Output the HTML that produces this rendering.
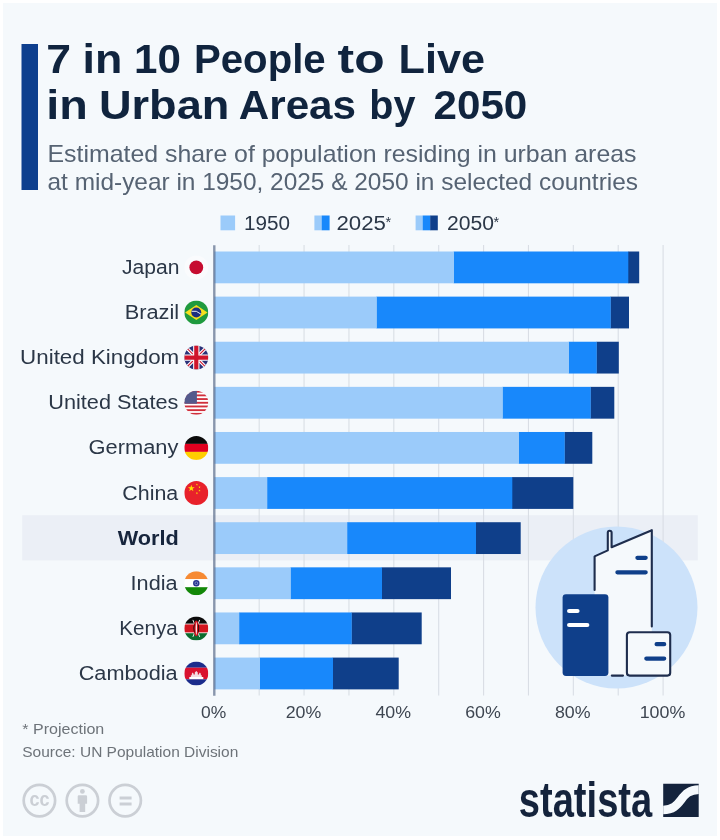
<!DOCTYPE html>
<html lang="en"><head><meta charset="utf-8"><title>7 in 10 People to Live in Urban Areas by 2050</title>
<style>
html,body{margin:0;padding:0;background:#fff;}
body{width:720px;height:840px;overflow:hidden;position:relative;font-family:"Liberation Sans",sans-serif;}
#card{position:absolute;left:3px;top:3px;width:714px;height:832.5px;background:#F5F9FC;}
svg{position:absolute;left:0;top:0;}
text{font-family:"Liberation Sans",sans-serif;}
.t{font-weight:bold;fill:#10243E;font-size:40.5px;}
.s{fill:#566373;font-size:24px;}
.lg{fill:#2B3747;font-size:19.5px;}
.lb{fill:#2B3747;font-size:19.5px;text-anchor:end;}
.ax{fill:#3E4651;font-size:16.5px;text-anchor:middle;}
.ft{fill:#6D7379;font-size:15px;}
</style></head><body>
<div id="card"></div>
<svg width="720" height="840" viewBox="0 0 720 840">

<rect x="21.5" y="44" width="16.5" height="146" fill="#0E3F8E"/>
<text class="t" y="73.3"><tspan x="46.39" textLength="24.78" lengthAdjust="spacingAndGlyphs">7</tspan> <tspan x="82.47" textLength="39.79" lengthAdjust="spacingAndGlyphs">in</tspan> <tspan x="134.10" textLength="46.89" lengthAdjust="spacingAndGlyphs">10</tspan> <tspan x="193.97" textLength="131.70" lengthAdjust="spacingAndGlyphs">People</tspan> <tspan x="337.55" textLength="47.06" lengthAdjust="spacingAndGlyphs">to</tspan> <tspan x="398.49" textLength="86.49" lengthAdjust="spacingAndGlyphs">Live</tspan></text>
<text class="t" y="119.4"><tspan x="46.32" textLength="41.56" lengthAdjust="spacingAndGlyphs">in</tspan> <tspan x="98.94" textLength="130.42" lengthAdjust="spacingAndGlyphs">Urban</tspan> <tspan x="238.79" textLength="117.27" lengthAdjust="spacingAndGlyphs">Areas</tspan> <tspan x="369.34" textLength="46.17" lengthAdjust="spacingAndGlyphs">by</tspan> <tspan x="433.50" textLength="93.80" lengthAdjust="spacingAndGlyphs">2050</tspan></text>
<text class="s" x="47.5" y="161.7" textLength="589" lengthAdjust="spacingAndGlyphs">Estimated share of population residing in urban areas</text>
<text class="s" x="47.5" y="190" textLength="590.5" lengthAdjust="spacingAndGlyphs">at mid-year in 1950, 2025 &amp; 2050 in selected countries</text>
<rect x="220.5" y="215.5" width="14.6" height="14.8" fill="#9BCBFA"/>
<text class="lg" x="244" y="230" textLength="46" lengthAdjust="spacingAndGlyphs">1950</text>
<rect x="314.4" y="215.5" width="7.6" height="14.8" fill="#9BCBFA"/><rect x="321.8" y="215.5" width="7.8" height="14.8" fill="#1888FB"/>
<text class="lg" x="336.4" y="230"><tspan textLength="49.5" lengthAdjust="spacingAndGlyphs">2025</tspan><tspan font-size="14.5" dx="-0.5" dy="-2.6">*</tspan></text>
<rect x="415.6" y="215.5" width="7.4" height="14.8" fill="#9BCBFA"/><rect x="422.8" y="215.5" width="7.6" height="14.8" fill="#1888FB"/><rect x="430.2" y="215.5" width="7.6" height="14.8" fill="#0F3F8A"/>
<text class="lg" x="447" y="230"><tspan textLength="47" lengthAdjust="spacingAndGlyphs">2050</tspan><tspan font-size="14.5" dx="-0.5" dy="-2.6">*</tspan></text>
<rect x="22.2" y="515.2" width="675.6" height="45.2" fill="#EBEFF6"/>
<line x1="259.18" y1="245" x2="259.18" y2="695.5" stroke="#D9DEE5" stroke-width="1.1"/>
<line x1="304.06" y1="245" x2="304.06" y2="695.5" stroke="#D9DEE5" stroke-width="1.1"/>
<line x1="348.94" y1="245" x2="348.94" y2="695.5" stroke="#D9DEE5" stroke-width="1.1"/>
<line x1="393.82" y1="245" x2="393.82" y2="695.5" stroke="#D9DEE5" stroke-width="1.1"/>
<line x1="438.70" y1="245" x2="438.70" y2="695.5" stroke="#D9DEE5" stroke-width="1.1"/>
<line x1="483.58" y1="245" x2="483.58" y2="695.5" stroke="#D9DEE5" stroke-width="1.1"/>
<line x1="528.46" y1="245" x2="528.46" y2="695.5" stroke="#D9DEE5" stroke-width="1.1"/>
<line x1="573.34" y1="245" x2="573.34" y2="695.5" stroke="#D9DEE5" stroke-width="1.1"/>
<line x1="618.22" y1="245" x2="618.22" y2="695.5" stroke="#D9DEE5" stroke-width="1.1"/>
<line x1="663.10" y1="245" x2="663.10" y2="695.5" stroke="#D9DEE5" stroke-width="1.1"/>
<circle cx="616.5" cy="607.5" r="81" fill="#CCE2FA"/>
<rect x="628.0" y="251.50" width="11.2" height="31.8" fill="#0F3F8A"/>
<rect x="453.7" y="251.50" width="174.6" height="31.8" fill="#1888FB"/>
<rect x="214.4" y="251.50" width="239.6" height="31.8" fill="#9BCBFA"/>
<rect x="610.4" y="296.62" width="18.6" height="31.8" fill="#0F3F8A"/>
<rect x="376.4" y="296.62" width="234.3" height="31.8" fill="#1888FB"/>
<rect x="214.4" y="296.62" width="162.3" height="31.8" fill="#9BCBFA"/>
<rect x="596.4" y="341.74" width="22.4" height="31.8" fill="#0F3F8A"/>
<rect x="568.7" y="341.74" width="28.0" height="31.8" fill="#1888FB"/>
<rect x="214.4" y="341.74" width="354.6" height="31.8" fill="#9BCBFA"/>
<rect x="590.4" y="386.86" width="23.9" height="31.8" fill="#0F3F8A"/>
<rect x="502.4" y="386.86" width="88.3" height="31.8" fill="#1888FB"/>
<rect x="214.4" y="386.86" width="288.3" height="31.8" fill="#9BCBFA"/>
<rect x="564.4" y="431.98" width="27.9" height="31.8" fill="#0F3F8A"/>
<rect x="518.7" y="431.98" width="46.0" height="31.8" fill="#1888FB"/>
<rect x="214.4" y="431.98" width="304.6" height="31.8" fill="#9BCBFA"/>
<rect x="512.0" y="477.10" width="61.3" height="31.8" fill="#0F3F8A"/>
<rect x="267.0" y="477.10" width="245.3" height="31.8" fill="#1888FB"/>
<rect x="214.4" y="477.10" width="52.9" height="31.8" fill="#9BCBFA"/>
<rect x="475.7" y="522.22" width="45.0" height="31.8" fill="#0F3F8A"/>
<rect x="347.0" y="522.22" width="129.0" height="31.8" fill="#1888FB"/>
<rect x="214.4" y="522.22" width="132.9" height="31.8" fill="#9BCBFA"/>
<rect x="381.7" y="567.34" width="69.3" height="31.8" fill="#0F3F8A"/>
<rect x="290.4" y="567.34" width="91.6" height="31.8" fill="#1888FB"/>
<rect x="214.4" y="567.34" width="76.3" height="31.8" fill="#9BCBFA"/>
<rect x="351.4" y="612.46" width="70.3" height="31.8" fill="#0F3F8A"/>
<rect x="239.0" y="612.46" width="112.7" height="31.8" fill="#1888FB"/>
<rect x="214.4" y="612.46" width="24.9" height="31.8" fill="#9BCBFA"/>
<rect x="332.7" y="657.58" width="66.0" height="31.8" fill="#0F3F8A"/>
<rect x="259.7" y="657.58" width="73.3" height="31.8" fill="#1888FB"/>
<rect x="214.4" y="657.58" width="45.6" height="31.8" fill="#9BCBFA"/>
<line x1="214.3" y1="245.2" x2="214.3" y2="695.8" stroke="#46597A" stroke-opacity="0.62" stroke-width="2.4"/>
<text class="lg" x="122.0" y="273.9" textLength="57.4" lengthAdjust="spacingAndGlyphs">Japan</text>
<text class="lg" x="124.7" y="319.0" textLength="54.5" lengthAdjust="spacingAndGlyphs">Brazil</text>
<text class="lg" x="20.1" y="364.1" textLength="159.1" lengthAdjust="spacingAndGlyphs">United Kingdom</text>
<text class="lg" x="48.3" y="409.3" textLength="130.1" lengthAdjust="spacingAndGlyphs">United States</text>
<text class="lg" x="88.6" y="454.4" textLength="89.8" lengthAdjust="spacingAndGlyphs">Germany</text>
<text class="lg" x="122.3" y="499.5" textLength="55.9" lengthAdjust="spacingAndGlyphs">China</text>
<text x="178.7" y="544.6" text-anchor="end" font-weight="bold" font-size="19.5" fill="#16243C" textLength="61" lengthAdjust="spacingAndGlyphs">World</text>
<text class="lg" x="130.6" y="589.7" textLength="47.0" lengthAdjust="spacingAndGlyphs">India</text>
<text class="lg" x="119.3" y="634.9" textLength="58.3" lengthAdjust="spacingAndGlyphs">Kenya</text>
<text class="lg" x="78.7" y="680.0" textLength="98.9" lengthAdjust="spacingAndGlyphs">Cambodia</text>
<text class="ax" x="213.7" y="718" textLength="25.2" lengthAdjust="spacingAndGlyphs">0%</text>
<text class="ax" x="303.5" y="718" textLength="35.6" lengthAdjust="spacingAndGlyphs">20%</text>
<text class="ax" x="393.2" y="718" textLength="35.6" lengthAdjust="spacingAndGlyphs">40%</text>
<text class="ax" x="483.0" y="718" textLength="35.6" lengthAdjust="spacingAndGlyphs">60%</text>
<text class="ax" x="572.7" y="718" textLength="35.6" lengthAdjust="spacingAndGlyphs">80%</text>
<text class="ax" x="662.5" y="718" textLength="45.6" lengthAdjust="spacingAndGlyphs">100%</text>
<text class="ft" x="22.3" y="734.3" textLength="82" lengthAdjust="spacingAndGlyphs">* Projection</text>
<text class="ft" x="22.3" y="757.3" textLength="216" lengthAdjust="spacingAndGlyphs">Source: UN Population Division</text>
<defs>
<clipPath id="fc0"><circle cx="196.3" cy="267.4" r="12"/></clipPath>
<clipPath id="fc1"><circle cx="196.3" cy="312.5" r="12"/></clipPath>
<clipPath id="fc2"><circle cx="196.3" cy="357.6" r="12"/></clipPath>
<clipPath id="fc3"><circle cx="196.3" cy="402.8" r="12"/></clipPath>
<clipPath id="fc4"><circle cx="196.3" cy="447.9" r="12"/></clipPath>
<clipPath id="fc5"><circle cx="196.3" cy="493.0" r="12"/></clipPath>
<clipPath id="fc6"><circle cx="196.3" cy="583.2" r="12"/></clipPath>
<clipPath id="fc7"><circle cx="196.3" cy="628.4" r="12"/></clipPath>
<clipPath id="fc8"><circle cx="196.3" cy="673.5" r="12"/></clipPath>
</defs>
<g clip-path="url(#fc0)"><rect x="184.3" y="255.4" width="24" height="24" fill="#FAFBFD"/><circle cx="196.3" cy="267.4" r="6.9" fill="#C60C30"/></g>
<g clip-path="url(#fc1)"><rect x="184.3" y="300.5" width="24" height="24" fill="#1F9A3E"/><polygon points="185.1,312.5 196.3,304.9 207.5,312.5 196.3,320.1" fill="#F7DF1E"/><circle cx="196.3" cy="312.5" r="5" fill="#1D2F7F"/><path d="M191.7,311.3 Q196.3,309.9 200.9,314.1" stroke="#E8EEF8" stroke-width="1" fill="none"/></g>
<g clip-path="url(#fc2)"><rect x="184.3" y="345.6" width="24" height="24" fill="#2A3178"/><path d="M184.3,345.6 L208.3,369.6 M208.3,345.6 L184.3,369.6" stroke="#FFFFFF" stroke-width="3.3"/><path d="M184.3,345.6 L208.3,369.6 M208.3,345.6 L184.3,369.6" stroke="#CF142B" stroke-width="1.1"/><path d="M196.3,345.6 V369.6 M184.3,357.6 H208.3" stroke="#FFFFFF" stroke-width="6.3"/><path d="M196.3,345.6 V369.6 M184.3,357.6 H208.3" stroke="#CF142B" stroke-width="4.2"/></g>
<g clip-path="url(#fc3)"><rect x="184.3" y="390.8" width="24" height="24" fill="#FFFFFF"/><rect x="184.3" y="390.76" width="24" height="1.85" fill="#D02F3C"/><rect x="184.3" y="394.45" width="24" height="1.85" fill="#D02F3C"/><rect x="184.3" y="398.14" width="24" height="1.85" fill="#D02F3C"/><rect x="184.3" y="401.84" width="24" height="1.85" fill="#D02F3C"/><rect x="184.3" y="405.53" width="24" height="1.85" fill="#D02F3C"/><rect x="184.3" y="409.22" width="24" height="1.85" fill="#D02F3C"/><rect x="184.3" y="412.91" width="24" height="1.85" fill="#D02F3C"/><rect x="184.3" y="390.8" width="12.6" height="12.92" fill="#54598C"/></g>
<g clip-path="url(#fc4)"><rect x="184.3" y="435.9" width="24" height="8" fill="#0B0B0B"/><rect x="184.3" y="443.9" width="24" height="8" fill="#E1001F"/><rect x="184.3" y="451.9" width="24" height="8" fill="#FFCE00"/></g>
<g clip-path="url(#fc5)"><rect x="184.3" y="481.0" width="24" height="24" fill="#E8212B"/><polygon points="191.30,484.80 192.11,487.29 194.72,487.29 192.61,488.82 193.42,491.31 191.30,489.78 189.18,491.31 189.99,488.82 187.88,487.29 190.49,487.29" fill="#FFDE00"/><polygon points="196.90,483.40 197.17,484.23 198.04,484.23 197.34,484.74 197.61,485.57 196.90,485.06 196.19,485.57 196.46,484.74 195.76,484.23 196.63,484.23" fill="#FFDE00"/><polygon points="199.50,486.00 199.77,486.83 200.64,486.83 199.94,487.34 200.21,488.17 199.50,487.66 198.79,488.17 199.06,487.34 198.36,486.83 199.23,486.83" fill="#FFDE00"/><polygon points="199.50,489.40 199.77,490.23 200.64,490.23 199.94,490.74 200.21,491.57 199.50,491.06 198.79,491.57 199.06,490.74 198.36,490.23 199.23,490.23" fill="#FFDE00"/><polygon points="196.90,492.00 197.17,492.83 198.04,492.83 197.34,493.34 197.61,494.17 196.90,493.66 196.19,494.17 196.46,493.34 195.76,492.83 196.63,492.83" fill="#FFDE00"/></g>
<g clip-path="url(#fc6)"><rect x="184.3" y="571.2" width="24" height="8" fill="#F68A33"/><rect x="184.3" y="579.2" width="24" height="8" fill="#FFFFFF"/><rect x="184.3" y="587.2" width="24" height="8" fill="#138808"/><circle cx="196.3" cy="583.2" r="2.5" fill="#8C96CC" stroke="#2A3590" stroke-width="1.5"/><circle cx="196.3" cy="583.2" r="1" fill="#1B2A8A"/></g>
<g clip-path="url(#fc7)"><rect x="184.3" y="616.4" width="24" height="24" fill="#FFFFFF"/><rect x="184.3" y="616.4" width="24" height="7.2" fill="#0B0B0B"/><rect x="184.3" y="624.4" width="24" height="8" fill="#D2141F"/><rect x="184.3" y="633.2" width="24" height="7.2" fill="#0B6B2E"/><path d="M192.9,619.9 L199.7,636.9 M199.7,619.9 L192.9,636.9" stroke="#FFFFFF" stroke-width="0.9"/><ellipse cx="196.3" cy="628.4" rx="2.7" ry="7.8" fill="#D2141F"/><path d="M194.8,623.0 Q191.9,628.4 194.8,633.8 Q193.7,628.4 194.8,623.0 Z" fill="#0B0B0B"/><path d="M197.8,623.0 Q200.7,628.4 197.8,633.8 Q198.9,628.4 197.8,623.0 Z" fill="#0B0B0B"/><ellipse cx="196.3" cy="628.4" rx="0.6" ry="6.4" fill="#FFFFFF"/></g>
<g clip-path="url(#fc8)"><rect x="184.3" y="661.5" width="24" height="6.2" fill="#1B2C8C"/><rect x="184.3" y="667.7" width="24" height="11.6" fill="#D9122F"/><rect x="184.3" y="679.3" width="24" height="6.2" fill="#1B2C8C"/><rect x="189.3" y="677.0" width="14" height="2.1" fill="#FFFFFF"/><path d="M190.8,677.1 h11 v-1.8 h-1 v-1.6 l-0.9,-1.2 l-0.9,1.2 v0.8 h-1.2 v-2 l-1.5,-1.6 l-1.5,1.6 v2 h-1.2 v-0.8 l-0.9,-1.2 l-0.9,1.2 v1.6 h-1 z" fill="#F3DDE2"/></g>
<path d="M594.6,675.6 V556.4 L607.8,550.4 V532.6 a2.0,2.0 0 0 1 3.8,0 V547.2 L651.8,530.2 V675.6 Z" fill="#F5F9FC"/>
<path d="M594.6,590 V556.4 L607.8,550.4 V532.6 a1.9,1.9 0 0 1 3.8,0 V547.2 L651.8,530.2 V626.4" fill="none" stroke="#1E2D4D" stroke-width="2.1" stroke-linejoin="round" stroke-linecap="round"/>
<path d="M637.4,557.8 H645.7 M617.4,572.3 H645.7" stroke="#0F3F8A" stroke-width="4.2" stroke-linecap="round"/>
<path d="M611.8,675.6 H623" stroke="#1E2D4D" stroke-width="2.1" stroke-linecap="round"/>
<rect x="562.6" y="594.2" width="45.8" height="81.8" rx="3.4" fill="#0F3F8A"/>
<path d="M569.1,611 H577.5 M569.1,625 H587.3" stroke="#FFFFFF" stroke-width="4.2" stroke-linecap="round"/>
<rect x="626.9" y="632.3" width="43.3" height="43.3" rx="2.8" fill="#F5F9FC" stroke="#1E2D4D" stroke-width="2.1"/>
<path d="M656.6,644.2 H664.2 M646.3,658.6 H664.2" stroke="#0F3F8A" stroke-width="4.2" stroke-linecap="round"/>
<circle cx="39.4" cy="800.6" r="15.7" fill="none" stroke="#CBCFD5" stroke-width="2.7"/>
<circle cx="82.4" cy="800.6" r="15.7" fill="none" stroke="#CBCFD5" stroke-width="2.7"/>
<circle cx="125.2" cy="800.6" r="15.7" fill="none" stroke="#CBCFD5" stroke-width="2.7"/>
<text x="29.6" y="806.2" font-size="21" font-weight="bold" fill="#CBCFD5" textLength="20" lengthAdjust="spacingAndGlyphs">cc</text>
<circle cx="82.4" cy="791.4" r="2.4" fill="#CBCFD5"/>
<path d="M77.7,796.4 a1.2,1.2 0 0 1 1.2,-1.2 h7 a1.2,1.2 0 0 1 1.2,1.2 v7.4 h-1.9 v8.2 h-5.6 v-8.2 h-1.9 z" fill="#CBCFD5"/>
<path d="M119.6,797.9 H131.6 M119.6,804.1 H131.6" stroke="#CBCFD5" stroke-width="3"/>
<text x="518.8" y="816.8" font-size="50" font-weight="bold" fill="#14233C" textLength="133.4" lengthAdjust="spacingAndGlyphs">statista</text>
<defs><clipPath id="lg"><rect x="663.2" y="783.8" width="35.5" height="33.3"/></clipPath></defs>
<g clip-path="url(#lg)"><rect x="663" y="783" width="36" height="35" fill="#14233C"/>
<path d="M655,810 H662 C684.5,810 677.5,789.6 700,789.6 H706" fill="none" stroke="#F5F9FC" stroke-width="8.6"/></g>
</svg></body></html>
